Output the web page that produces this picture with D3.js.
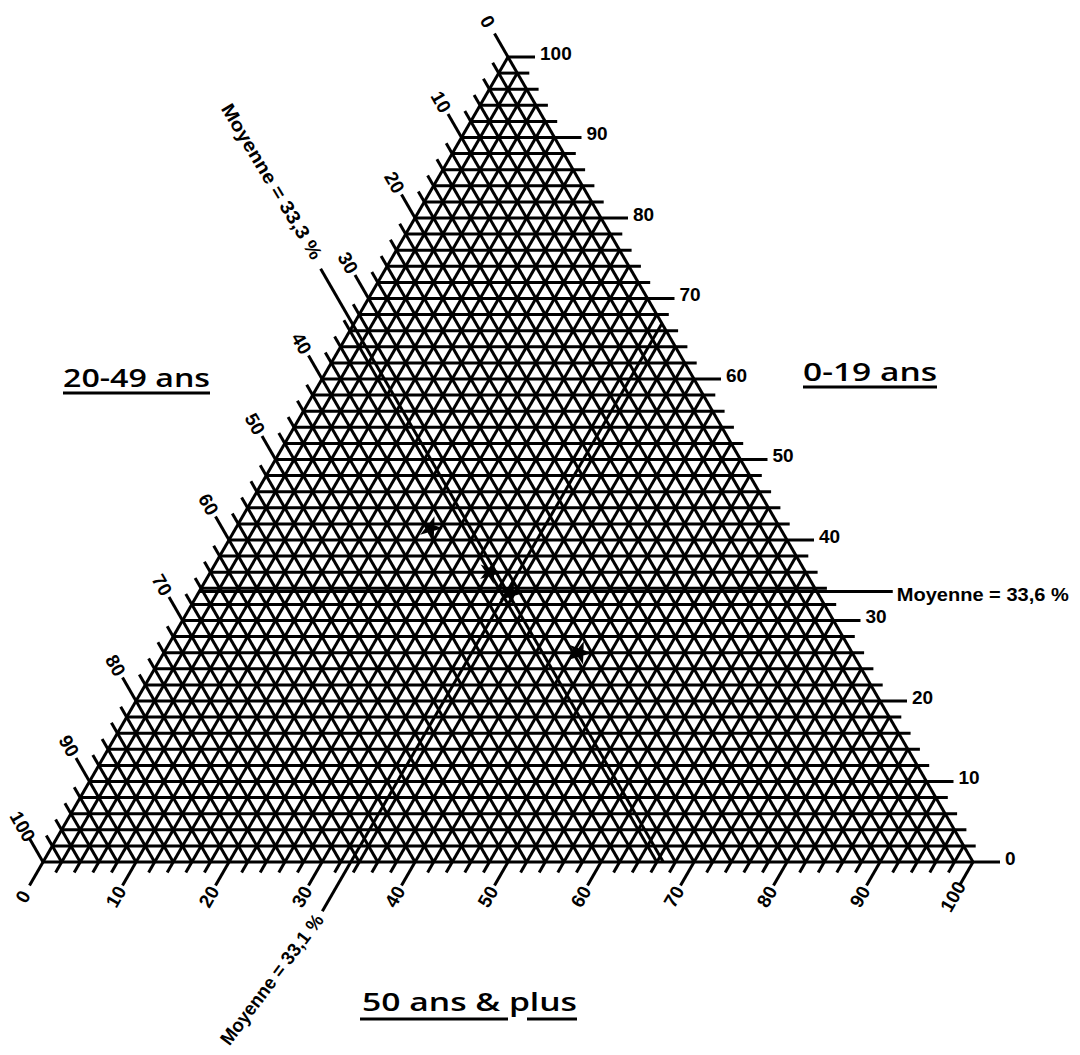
<!DOCTYPE html>
<html><head><meta charset="utf-8">
<script src="https://cdn.jsdelivr.net/npm/d3@7"></script>
<style>body{margin:0;background:#fff}svg{display:block}</style>
</head><body><svg id="c" width="1080" height="1055"></svg>
<script>
// ---- data ----
const gridSteps = d3.range(0, 101, 2);          // grid every 2 %
const tickValues = d3.range(0, 101, 10);        // labelled every 10 %
const tickLabels = tickValues.map(String);
const axisTitles = ["0-19 ans", "20-49 ans", "50 ans & plus"];
const meanValues = [33.6, 33.3, 33.1];          // 0-19, 20-49, 50+
const meanLabels = ["Moyenne = 33,6 %", "Moyenne = 33,3 %", "Moyenne = 33,1 %"];
const markYoung = [41.5, 36.0, 33.4, 26.0];     // 0-19 share of marked points
const markOld   = [20.9, 30.1, 33.5, 44.7];     // 50+ share of marked points

// ---- scales ----
const svg = d3.select("#c");
const xS = d3.scaleLinear().domain([0, 100]).range([43, 973]);
const yS = d3.scaleLinear().domain([0, 100]).range([862, 57]);
// ternary projection: c = 0-19 (top), b = 50+ (bottom-right), a = rest (bottom-left)
const P = (c, b) => [xS(b + c / 2), yS(c)];
const dirL = [-0.5, -0.866], dirB = [-0.5, 0.866];
const ext = (p, d, L) => [p[0] + d[0] * L, p[1] + d[1] * L];
const isMajor = v => v % 10 === 0;
const tickLen = v => isMajor(v) ? 27 : 12;
const line = d3.line();

const g = svg.append("g").attr("stroke", "#000").attr("stroke-width", 3).attr("fill", "none");

gridSteps.forEach(v => {
  // constant 0-19 (horizontal), extended to the right
  const h1 = P(v, 0), h2 = P(v, 100 - v);
  g.append("path").attr("d", line([h1, [h2[0] + tickLen(v), h2[1]]]));
  // constant 20-49 (parallel to right edge), extended up-left
  const a1 = P(100 - v, 0), a2 = P(0, 100 - v);
  g.append("path").attr("d", line([ext(a1, dirL, tickLen(v)), a2]));
  // constant 50+ (parallel to left edge), extended down-left
  const b1 = P(0, v), b2 = P(100 - v, v);
  g.append("path").attr("d", line([ext(b1, dirB, tickLen(v)), b2]));
});

// ---- tick labels ----
const tf = "font-family:'Liberation Sans',Arial,sans-serif;font-weight:bold;font-size:19px";
const lab = svg.append("g").attr("fill", "#000").attr("style", tf);
tickValues.forEach((v, i) => {
  // right axis (0-19)
  const r = P(v, 100 - v);
  lab.append("text").attr("x", r[0] + 32).attr("y", r[1] - 4)
    .attr("dominant-baseline", "central").text(tickLabels[i]);
  // left axis (20-49)
  const l = ext(P(100 - v, 0), dirL, 41);
  lab.append("text").attr("transform", `translate(${l[0]},${l[1]}) rotate(60)`)
    .attr("text-anchor", "middle").attr("dominant-baseline", "central").text(tickLabels[i]);
  // bottom axis (50+)
  const b = ext(P(0, v), dirB, 40);
  lab.append("text").attr("transform", `translate(${b[0]},${b[1]}) rotate(-60)`)
    .attr("text-anchor", "middle").attr("dominant-baseline", "central").text(tickLabels[i]);
});

// ---- mean lines ----
const m = svg.append("g").attr("stroke", "#000").attr("stroke-width", 3).attr("fill", "none");
const [mc, ma, mb] = meanValues;
// 0-19 mean: horizontal
const mc1 = P(mc, 0), mc2 = P(mc, 100 - mc);
m.append("path").attr("d", line([mc1, [mc2[0] + 76, mc2[1]]]));
// 20-49 mean
const ma1 = P(100 - ma, 0), ma2 = P(0, 100 - ma);
const maEnd = ext(ma1, dirL, 65);
m.append("path").attr("d", line([maEnd, ma2]));
// 50+ mean
const mb1 = P(0, mb), mb2 = P(100 - mb, mb);
const mbEnd = ext(mb1, dirB, 57);
m.append("path").attr("d", line([mbEnd, mb2]));

const mf = "font-family:'Liberation Sans',Arial,sans-serif;font-weight:bold;font-size:19px";
svg.append("text").attr("style", mf).attr("x", mc2[0] + 80).attr("y", mc2[1] + 3)
  .attr("dominant-baseline", "central").attr("textLength", 172).attr("lengthAdjust", "spacingAndGlyphs")
  .text(meanLabels[0]);
svg.append("text").attr("style", mf)
  .attr("transform", `translate(${maEnd[0] - 3},${maEnd[1] - 11}) rotate(59)`)
  .attr("text-anchor", "end").attr("dominant-baseline", "central")
  .attr("textLength", 178).attr("lengthAdjust", "spacingAndGlyphs").text(meanLabels[1]);
svg.append("text").attr("style", mf)
  .attr("transform", `translate(${mbEnd[0] - 3},${mbEnd[1] + 5}) rotate(-53)`)
  .attr("text-anchor", "end").attr("dominant-baseline", "central")
  .attr("textLength", 158).attr("lengthAdjust", "spacingAndGlyphs").text(meanLabels[2]);

// ---- marked points ----
const sym = d3.symbol().type(d3.symbolStar).size(170);
markYoung.forEach((c, i) => {
  const p = P(c, markOld[i]);
  svg.append("path").attr("d", sym()).attr("transform", `translate(${p[0]},${p[1]}) rotate(20)`)
    .attr("fill", "#000");
});

// ---- axis titles ----
const tt = "font-family:'Open Sans',sans-serif;font-weight:600;font-size:25px";
const titles = [
  {x: 803, y: 381, w: 134, u: [[803, 937]], uy: 387},
  {x: 63, y: 387, w: 147, u: [[63, 210]], uy: 393},
  {x: 362, y: 1011, w: 215, u: [[360, 508], [527, 577]], uy: 1019}
];
titles.forEach((t, i) => {
  svg.append("text").attr("style", tt).attr("x", t.x).attr("y", t.y)
    .attr("textLength", t.w).attr("lengthAdjust", "spacingAndGlyphs").text(axisTitles[i]);
  t.u.forEach(s => svg.append("line").attr("x1", s[0]).attr("x2", s[1])
    .attr("y1", t.uy).attr("y2", t.uy).attr("stroke", "#000").attr("stroke-width", 3));
});
</script></body></html>
